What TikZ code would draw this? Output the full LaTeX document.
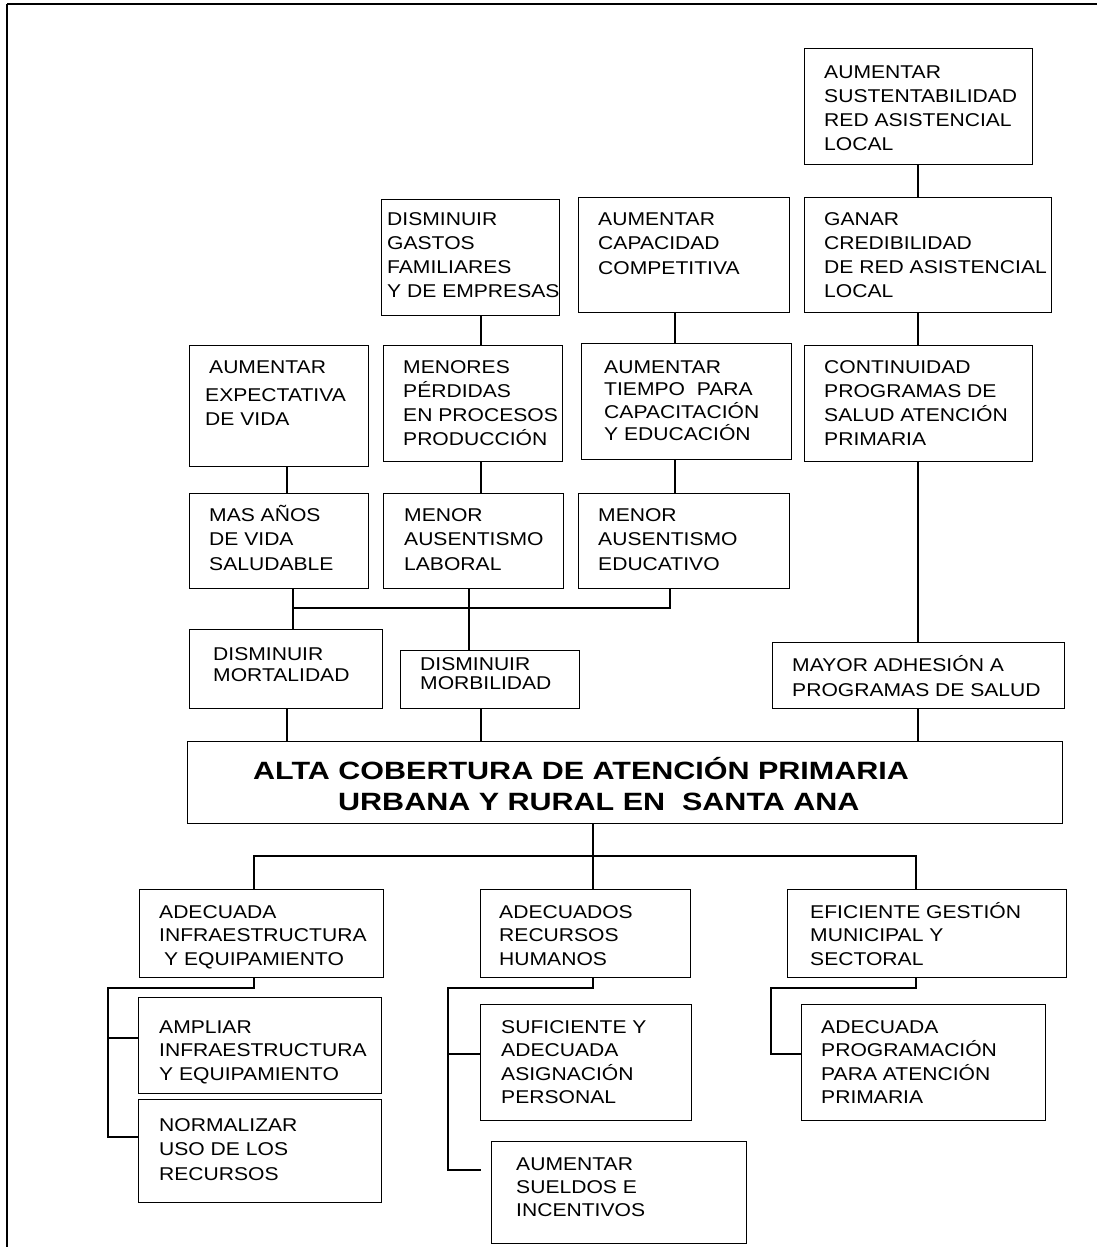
\documentclass[tikz,border=0pt]{standalone}
\usepackage{fontspec}
\setmainfont{Liberation Sans}[FakeStretch=1.14]
\newfontfamily\titlefont{Liberation Sans}[FakeStretch=1.22]
\newcommand\tx[2]{{\fontsize{18.5}{#1}\selectfont\begin{tabular}[t]{@{}l@{}}#2\end{tabular}}}
\newcommand\bx[5]{\node[box, anchor=north west, minimum width={#4-#2}, minimum height={#5-#3}] (#1) at (#2,#3) {};}
\begin{document}
\begin{tikzpicture}[x=1pt,y=-1pt,
  box/.style={draw, line width=1.4pt, inner sep=0pt, rectangle},
  ln/.style={line width=1.4pt},
  lbl/.style={inner sep=0pt, anchor=base west}]
\useasboundingbox (0,0) rectangle (1097,1247);
% frame
\draw[ln] (7,4) -- (1097,4);
\draw[ln] (7,4) -- (7,1247);
% boxes
\bx{a1}{804}{48}{1032}{164}
\bx{gastos}{381}{199}{559}{315}
\bx{compet}{578}{197}{789}{312}
\bx{ganar}{804}{197}{1051}{312}
\bx{expect}{189}{345}{368}{466}
\bx{menores}{383}{345}{562}{461}
\bx{tiempo}{581}{343}{791}{459}
\bx{contin}{804}{345}{1032}{461}
\bx{masanos}{189}{493}{368}{588}
\bx{laboral}{383}{493}{563}{588}
\bx{educ}{578}{493}{789}{588}
\bx{mortal}{189}{629}{382}{708}
\bx{morbil}{400}{650}{579}{708}
\bx{mayor}{772}{642}{1064}{708}
\bx{main}{187}{741}{1062}{823}
\bx{infra}{139}{889}{383}{977}
\bx{rrhh}{480}{889}{690}{977}
\bx{gestion}{787}{889}{1066}{977}
\bx{ampliar}{138}{997}{381}{1093}
\bx{normal}{138}{1099}{381}{1202}
\bx{sufic}{480}{1004}{691}{1120}
\bx{sueldos}{491}{1141}{746}{1243}
\bx{prog}{801}{1004}{1045}{1120}
% texts
\node[lbl] (a1-t) at (824,78) {\tx{24.3pt}{AUMENTAR\\SUSTENTABILIDAD\\RED ASISTENCIAL\\LOCAL}};
\node[lbl] (gastos-t) at (387,225) {\tx{24pt}{DISMINUIR\\GASTOS\\FAMILIARES\\Y DE EMPRESAS}};
\node[lbl] (compet-t) at (598,225) {\tx{24.5pt}{AUMENTAR\\CAPACIDAD\\COMPETITIVA}};
\node[lbl] (ganar-t) at (824,225) {\tx{24.3pt}{GANAR\\CREDIBILIDAD\\DE RED ASISTENCIAL\\LOCAL}};
\node[lbl] (expect-t) at (205,373) {\tx{24pt}{\hspace{4pt}AUMENTAR\\[4pt]EXPECTATIVA\\DE VIDA}};
\node[lbl] (menores-t) at (403,373) {\tx{24pt}{MENORES\\PÉRDIDAS\\EN PROCESOS\\PRODUCCIÓN}};
\node[lbl] (tiempo-t) at (604,373) {\tx{22.4pt}{AUMENTAR\\TIEMPO\ \ PARA\\CAPACITACIÓN\\Y EDUCACIÓN}};
\node[lbl] (contin-t) at (824,373) {\tx{24.3pt}{CONTINUIDAD\\PROGRAMAS DE\\SALUD ATENCIÓN\\PRIMARIA}};
\node[lbl] (masanos-t) at (209,521) {\tx{24.5pt}{MAS AÑOS\\DE VIDA\\SALUDABLE}};
\node[lbl] (laboral-t) at (404,521) {\tx{24.5pt}{MENOR\\AUSENTISMO\\LABORAL}};
\node[lbl] (educ-t) at (598,521) {\tx{24.5pt}{MENOR\\AUSENTISMO\\EDUCATIVO}};
\node[lbl] (mortal-t) at (213,660) {\tx{21pt}{DISMINUIR\\MORTALIDAD}};
\node[lbl] (morbil-t) at (420,670) {\tx{19pt}{DISMINUIR\\MORBILIDAD}};
\node[lbl] (mayor-t) at (792,671) {\tx{25pt}{MAYOR ADHESIÓN A\\PROGRAMAS DE SALUD}};
\node[lbl] (title1) at (253,779) {\titlefont\bfseries\fontsize{25}{30}\selectfont ALTA COBERTURA DE ATENCIÓN PRIMARIA};
\node[lbl] (title2) at (338,810) {\titlefont\bfseries\fontsize{25}{30}\selectfont URBANA Y RURAL EN\ \ SANTA ANA};
\node[lbl] (infra-t) at (159,918) {\tx{23.5pt}{ADECUADA\\INFRAESTRUCTURA\\\hspace{5pt}Y EQUIPAMIENTO}};
\node[lbl] (rrhh-t) at (499,918) {\tx{23.5pt}{ADECUADOS\\RECURSOS\\HUMANOS}};
\node[lbl] (gestion-t) at (810,918) {\tx{23.5pt}{EFICIENTE GESTIÓN\\MUNICIPAL Y\\SECTORAL}};
\node[lbl] (ampliar-t) at (159,1033) {\tx{23.5pt}{AMPLIAR\\INFRAESTRUCTURA\\Y EQUIPAMIENTO}};
\node[lbl] (normal-t) at (159,1131) {\tx{24.5pt}{NORMALIZAR\\USO DE LOS\\RECURSOS}};
\node[lbl] (sufic-t) at (501,1033) {\tx{23.5pt}{SUFICIENTE Y\\ADECUADA\\ASIGNACIÓN\\PERSONAL}};
\node[lbl] (sueldos-t) at (516,1170) {\tx{23pt}{AUMENTAR\\SUELDOS E\\INCENTIVOS}};
\node[lbl] (prog-t) at (821,1033) {\tx{23.5pt}{ADECUADA\\PROGRAMACIÓN\\PARA ATENCIÓN\\PRIMARIA}};
% x positions
\coordinate (x918) at (918,0);
\coordinate (x916) at (916,0);
\coordinate (x481) at (481,0);
\coordinate (x675) at (675,0);
\coordinate (x670) at (670,0);
\coordinate (x287) at (287,0);
\coordinate (x293) at (293,0);
\coordinate (x469) at (469,0);
\coordinate (x593) at (593,0);
\coordinate (x254) at (254,0);
\coordinate (x108) at (108,0);
\coordinate (x448) at (448,0);
\coordinate (x771) at (771,0);
\coordinate (y608) at (0,608);
\coordinate (y856) at (0,856);
\coordinate (y988) at (0,988);
\coordinate (y1038) at (0,1038);
\coordinate (y1137) at (0,1137);
\coordinate (y1054) at (0,1054);
\coordinate (y1170) at (0,1170);
\coordinate (e1) at (481,1170);
% right column
\draw[ln] (a1.south -| x918) -- (ganar.north -| x918);
\draw[ln] (ganar.south -| x918) -- (contin.north -| x918);
\draw[ln] (contin.south -| x918) -- (mayor.north -| x918);
\draw[ln] (mayor.south -| x918) -- (main.north -| x918);
% middle columns
\draw[ln] (gastos.south -| x481) -- (menores.north -| x481);
\draw[ln] (compet.south -| x675) -- (tiempo.north -| x675);
\draw[ln] (menores.south -| x481) -- (laboral.north -| x481);
\draw[ln] (tiempo.south -| x675) -- (educ.north -| x675);
\draw[ln] (expect.south -| x287) -- (masanos.north -| x287);
\draw[ln] (masanos.south -| x293) -- (mortal.north -| x293);
\draw[ln] (laboral.south -| x469) -- (morbil.north -| x469);
\draw[ln] (educ.south -| x670) -- (x670 |- y608) -- (x293 |- y608);
\draw[ln] (mortal.south -| x287) -- (main.north -| x287);
\draw[ln] (morbil.south -| x481) -- (main.north -| x481);
% lower tree
\draw[ln] (main.south -| x593) -- (rrhh.north -| x593);
\draw[ln] (infra.north -| x254) -- (x254 |- y856) -- (x916 |- y856) -- (gestion.north -| x916);
\draw[ln] (infra.south -| x254) -- (x254 |- y988) -- (x108 |- y988) -- (x108 |- y1137) -- (normal.west |- y1137);
\draw[ln] (x108 |- y1038) -- (ampliar.west |- y1038);
\draw[ln] (rrhh.south -| x593) -- (x593 |- y988) -- (x448 |- y988) -- (x448 |- y1170) -- (e1);
\draw[ln] (x448 |- y1054) -- (sufic.west |- y1054);
\draw[ln] (gestion.south -| x916) -- (x916 |- y988) -- (x771 |- y988) -- (x771 |- y1054) -- (prog.west |- y1054);
\end{tikzpicture}
\end{document}
